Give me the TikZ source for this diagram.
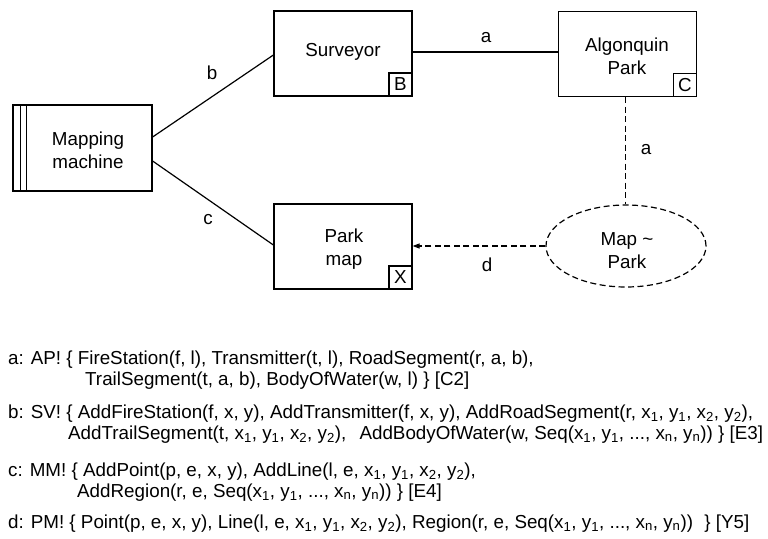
\documentclass[tikz,border=0pt]{standalone}
\usepackage{fontspec}
\setmainfont{Liberation Sans}
\usetikzlibrary{arrows.meta,shapes.geometric,calc}
\newcommand{\sbs}[1]{\textsubscript{#1}}
\begin{document}
\begin{tikzpicture}[x=1pt,y=-1pt,
  every node/.style={font=\fontsize{18.8}{23}\selectfont},
  box/.style={draw,line width=1.2pt,minimum width=138pt,minimum height=85pt,align=center,inner sep=0pt},
  tag/.style={draw,line width=1.2pt,minimum width=23pt,minimum height=23pt,inner sep=0pt,anchor=south east},
  domname/.style={align=center,inner sep=0pt},
  link/.style={line width=1.2pt},
  dlink/.style={line width=1.2pt,dash pattern=on 6pt off 3.5pt},
  lbl/.style={inner sep=0pt},
  spec/.style={anchor=base west,inner sep=0pt}]
\clip (0,0) rectangle (768,538);
\fill[white] (0,0) rectangle (768,538);

% machine domain with double stripe on the left
\node[box,minimum width=139pt,minimum height=86pt] (mm) at (82.5,148) {};
\draw[line width=1.2pt] ($(mm.north west)+(8,0)$) -- ($(mm.south west)+(8,0)$);
\draw[line width=1.2pt] ($(mm.north west)+(14,0)$) -- ($(mm.south west)+(14,0)$);
\node[domname] (mmt) at (88,150) {Mapping\\machine};

% given domains
\node[box] (sv) at (343,53.5) {};
\node[domname] (svt) at (343,52) {Surveyor};
\node[tag] (svb) at (sv.south east) {B};

\node[box] (ap) at (627.5,54) {};
\node[domname] (apt) at (627,56) {Algonquin\\Park};
\node[tag] (apc) at (ap.south east) {C};

\node[box] (pm) at (343,246.5) {};
\node[domname] (pmt) at (344,249) {Park\\map};
\node[tag] (pmx) at (pm.south east) {X};

% designed model
\node[ellipse,dlink,draw,minimum width=160pt,minimum height=82pt,inner sep=0pt] (el) at (626,246) {};
\node[domname] (elt) at (627,251) {Map \textasciitilde\\Park};

% interfaces
\draw[link] ([yshift=11pt]mm.east) -- ([yshift=-1.5pt]sv.west);
\draw[link] ([yshift=-13pt]mm.east) -- ([yshift=1.5pt]pm.west);
\draw[link] ([yshift=1.5pt]sv.east) -- ([yshift=1.5pt]sv.east -| ap.west);
\draw[dlink] ([xshift=-2pt]ap.south) -- ([xshift=-2pt]ap.south |- el.north);
\draw[dlink,-{Triangle[length=7pt,width=5pt]}] (el.west) -- (el.west -| pm.east);

\node[lbl] (lb) at (212,73) {b};
\node[lbl] (lc) at (208,220) {c};
\node[lbl] (la) at (486,38) {a};
\node[lbl] (la2) at (646,150) {a};
\node[lbl] (ld) at (487,265) {d};

% phenomena shared at each interface
\node[spec] (ta1) at (8,364) {a: AP! \{ FireStation(f, l), Transmitter(t, l), RoadSegment(r, a, b),};
\node[spec] (ta2) at (85,385) {TrailSegment(t, a, b), BodyOfWater(w, l) \} [C2]};
\node[spec] (tb1) at (8,418) {b: SV! \{ AddFireStation(f, x, y), AddTransmitter(f, x, y), AddRoadSegment(r, x\sbs{1}, y\sbs{1}, x\sbs{2}, y\sbs{2}),};
\node[spec] (tb2) at (68,439) {AddTrailSegment(t, x\sbs{1}, y\sbs{1}, x\sbs{2}, y\sbs{2}),\hspace{0.7em}AddBodyOfWater(w, Seq(x\sbs{1}, y\sbs{1}, ..., x\sbs{n}, y\sbs{n})) \} [E3]};
\node[spec] (tc1) at (8,476) {c: MM! \{ AddPoint(p, e, x, y), AddLine(l, e, x\sbs{1}, y\sbs{1}, x\sbs{2}, y\sbs{2}),};
\node[spec] (tc2) at (77,497) {AddRegion(r, e, Seq(x\sbs{1}, y\sbs{1}, ..., x\sbs{n}, y\sbs{n})) \} [E4]};
\node[spec] (td1) at (8,528) {d: PM! \{ Point(p, e, x, y), Line(l, e, x\sbs{1}, y\sbs{1}, x\sbs{2}, y\sbs{2}), Region(r, e, Seq(x\sbs{1}, y\sbs{1}, ..., x\sbs{n}, y\sbs{n}))\hspace{0.6em}\} [Y5]};
\end{tikzpicture}
\end{document}
